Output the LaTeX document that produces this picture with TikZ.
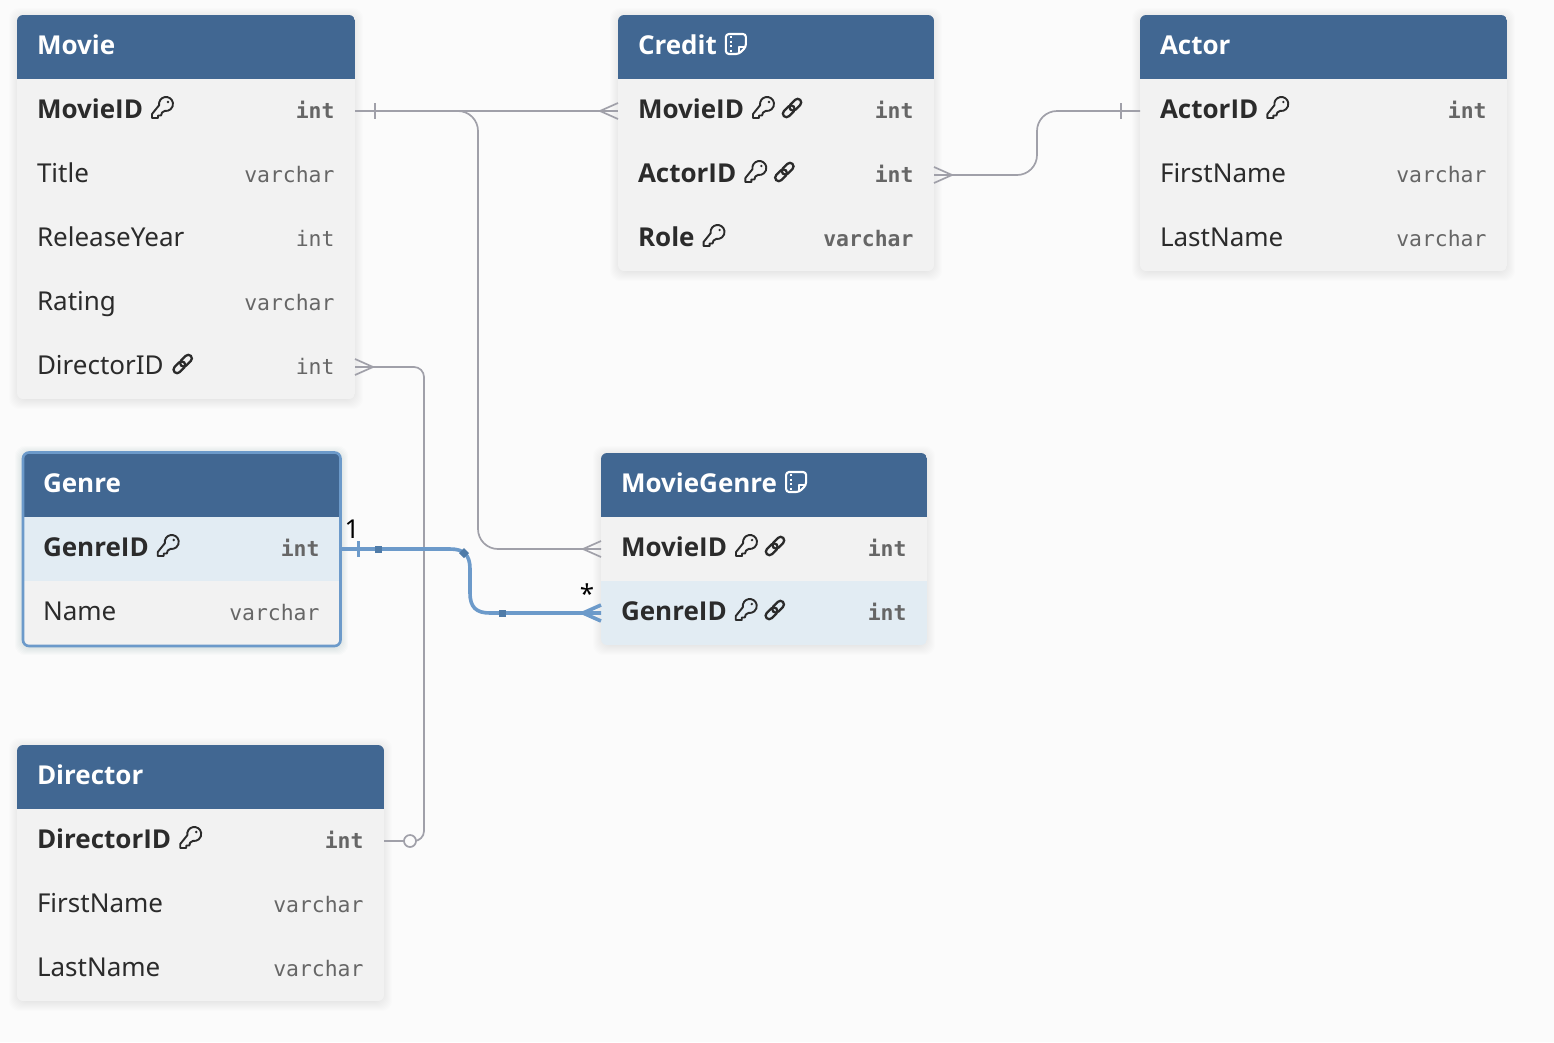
\documentclass[tikz,border=0pt]{standalone}
\usepackage{fontspec}
\setmainfont{Noto Sans}
\newfontfamily\keyfont{Open Sans}
\setmonofont{DejaVu Sans Mono}
\usetikzlibrary{calc}
\definecolor{pagebg}{HTML}{FBFBFB}
\definecolor{headblue}{HTML}{416792}
\definecolor{rowgrey}{HTML}{F2F2F2}
\definecolor{rowhi}{HTML}{E2ECF3}
\definecolor{inkdark}{HTML}{2B2B2B}
\definecolor{typegrey}{HTML}{666666}
\definecolor{wire}{HTML}{A0A0A9}
\definecolor{wireblue}{HTML}{6C9ACA}
\definecolor{markblue}{HTML}{4F7BA8}
\newcommand\fsz{\fontsize{26}{30}\selectfont}
\newcommand\tsz{\fontsize{21.4}{26}\selectfont\ttfamily}
\tikzset{
  rowbox/.style={draw=none,fill=rowgrey,rectangle,inner sep=0pt,outer sep=0pt,anchor=north west,minimum height=64pt},
  headbox/.style={rowbox,fill=headblue},
  rowname/.style={anchor=base west,inner sep=0pt,outer sep=0pt,text=inkdark,font=\fsz},
  rowkeyname/.style={rowname,font=\fsz\keyfont\bfseries},
  headname/.style={anchor=base west,inner sep=0pt,outer sep=0pt,text=white,font=\fsz\keyfont\bfseries},
  rowtype/.style={anchor=base east,inner sep=0pt,outer sep=0pt,text=typegrey,font=\tsz},
  rowkeytype/.style={rowtype,font=\tsz\bfseries},
  wireline/.style={draw=wire,line width=1.7pt},
  blueline/.style={draw=wireblue,line width=3.6pt},
  keyicon/.pic={
    \begin{scope}[yscale=-1,line width=1.9pt,line join=round]
      \draw[inkdark] (-2.9,2.8) arc[start angle=190,end angle=-100,radius=7] -- (0,-4.5) -- (-1,-7.5) -- (-4,-7.5) -- (-4,-10) -- (-10,-10) -- (-10,-6) -- cycle;
      \fill[inkdark] (6,6) circle[radius=1.3];
    \end{scope}},
  linkicon/.pic={
    \begin{scope}[rotate=45,line width=2.3pt,inkdark]
      \draw[rounded corners=3.6pt] (-11.5,-3.6) rectangle (2.2,3.6);
      \draw[rounded corners=3.6pt] (-2.2,-3.6) rectangle (11.5,3.6);
    \end{scope}},
  noteicon/.pic={
    \begin{scope}[line width=2.1pt,white,line join=round]
      \draw[rounded corners=3pt] (-10,-10) -- (10,-10) -- (10,3) -- (3,10) -- (-10,10) -- cycle;
      \draw (10,3) -- (3,3) -- (3,10);
      \draw[dash pattern=on 2pt off 2.5pt,line width=1.6pt] (-5,-8) -- (-5,8);
    \end{scope}},
}
% \dbshadow{x}{y}{w}{h}{colour}
\newcommand\dbshadow[5]{%
  \foreach \s in {1,2,...,10}{
    \fill[#5,opacity=0.006,rounded corners=10pt] ({#1-\s+2},{#2+3-\s}) rectangle ({#1+#3+\s-2},{#2+#4+\s});
  }%
}
% \dbopen{x}{y}{w}{h}
\newcommand\dbopen[4]{%
  \dbshadow{#1}{#2}{#3}{#4}{black}%
  \begin{scope}
  \clip[rounded corners=6pt] (#1,#2) rectangle ({#1+#3},{#2+#4});
  \def\tx{#1}\def\ty{#2}\def\tw{#3}%
}
\newcommand\dbclose{\end{scope}}
% \dbhead{id}{title}
\newcommand\dbhead[2]{%
  \node[headbox,minimum width=\tw pt] (#1-head) at (\tx,\ty) {};
  \node[headname] (#1-title) at ({\tx+20},{\ty+39}) {#2};
  \pgfmathsetmacro\ty{\ty+64}%
}
% \dbrow{id}{fill}{namestyle}{name}{typestyle}{type}
\newcommand\dbrow[6]{%
  \node[rowbox,fill=#2,minimum width=\tw pt] (#1) at (\tx,\ty) {};
  \node[#3] (#1-name) at ({\tx+20},{\ty+39}) {#4};
  \node[#5] (#1-type) at ({\tx+\tw-20.5},{\ty+39}) {#6};
  \pgfmathsetmacro\ty{\ty+64}%
}
\newcommand\keylink[1]{%
  \pic at ($(#1-name.base east)+(19,-10)$) {keyicon};
}
\newcommand\keylinktwo[1]{%
  \pic at ($(#1-name.base east)+(19,-10)$) {keyicon};
  \pic at ($(#1-name.base east)+(48,-10)$) {linkicon};
}
\begin{document}
\begin{tikzpicture}[x=1pt,y=-1pt]
\useasboundingbox (0,0) rectangle (1554,1042);
\fill[pagebg] (0,0) rectangle (1554,1042);

% Movie
\dbopen{17}{15}{338}{384}
\dbhead{movie}{Movie}
\dbrow{movie-1}{rowgrey}{rowkeyname}{MovieID}{rowkeytype}{int}
\dbrow{movie-2}{rowgrey}{rowname}{Title}{rowtype}{varchar}
\dbrow{movie-3}{rowgrey}{rowname}{ReleaseYear}{rowtype}{int}
\dbrow{movie-4}{rowgrey}{rowname}{Rating}{rowtype}{varchar}
\dbrow{movie-5}{rowgrey}{rowname}{DirectorID}{rowtype}{int}
\keylink{movie-1}
\pic at ($(movie-5-name.base east)+(19,-10)$) {linkicon};
\dbclose

% Credit
\dbopen{618}{15}{316}{256}
\dbhead{credit}{Credit}
\dbrow{credit-1}{rowgrey}{rowkeyname}{MovieID}{rowkeytype}{int}
\dbrow{credit-2}{rowgrey}{rowkeyname}{ActorID}{rowkeytype}{int}
\dbrow{credit-3}{rowgrey}{rowkeyname}{Role}{rowkeytype}{varchar}
\pic at ($(credit-title.base east)+(19,-10)$) {noteicon};
\keylinktwo{credit-1}
\keylinktwo{credit-2}
\keylink{credit-3}
\dbclose

% Actor
\dbopen{1140}{15}{367}{256}
\dbhead{actor}{Actor}
\dbrow{actor-1}{rowgrey}{rowkeyname}{ActorID}{rowkeytype}{int}
\dbrow{actor-2}{rowgrey}{rowname}{FirstName}{rowtype}{varchar}
\dbrow{actor-3}{rowgrey}{rowname}{LastName}{rowtype}{varchar}
\keylink{actor-1}
\dbclose

% Genre (selected)
\dbshadow{23}{453}{317}{192}{wireblue}
\dbopen{23}{453}{317}{192}
\dbhead{genre}{Genre}
\dbrow{genre-1}{rowhi}{rowkeyname}{GenreID}{rowkeytype}{int}
\dbrow{genre-2}{rowgrey}{rowname}{Name}{rowtype}{varchar}
\keylink{genre-1}
\dbclose
\draw[wireblue,line width=2.6pt,rounded corners=6pt] (23,452.5) rectangle (340.5,646);

% MovieGenre
\dbopen{601}{453}{326}{192}
\dbhead{mg}{MovieGenre}
\dbrow{mg-1}{rowgrey}{rowkeyname}{MovieID}{rowkeytype}{int}
\dbrow{mg-2}{rowhi}{rowkeyname}{GenreID}{rowkeytype}{int}
\pic at ($(mg-title.base east)+(19,-10)$) {noteicon};
\keylinktwo{mg-1}
\keylinktwo{mg-2}
\dbclose

% Director
\dbopen{17}{745}{367}{256}
\dbhead{director}{Director}
\dbrow{director-1}{rowgrey}{rowkeyname}{DirectorID}{rowkeytype}{int}
\dbrow{director-2}{rowgrey}{rowname}{FirstName}{rowtype}{varchar}
\dbrow{director-3}{rowgrey}{rowname}{LastName}{rowtype}{varchar}
\keylink{director-1}
\dbclose

% Grey connectors
\draw[wireline] (movie-1.east) -- (credit-1.west);
\draw[wireline] (movie-1.east) -- ++(103,0) arc[start angle=-90,end angle=0,radius=20]
   -- ++(0,398) arc[start angle=180,end angle=90,radius=20] -- (mg-1.west);
\draw[wireline] (credit-2.east) -- ++(83,0) arc[start angle=90,end angle=0,radius=20]
   -- ++(0,-24) arc[start angle=180,end angle=270,radius=20] -- (actor-1.west);
\draw[wireline] (movie-5.east) -- ++(59,0) arc[start angle=-90,end angle=0,radius=10]
   -- ++(0,454) arc[start angle=0,end angle=90,radius=10] -- (director-1.east);
% Ticks
\draw[wireline] ($(movie-1.east)+(20,-8)$) -- ++(0,16);
\draw[wireline] ($(actor-1.west)+(-19,-8)$) -- ++(0,16);
% Crow's feet
\draw[wireline] ($(credit-1.west)+(0,-8)$) -- ++(-18,8) -- ++(18,8);
\draw[wireline] ($(mg-1.west)+(0,-8)$) -- ++(-18,8) -- ++(18,8);
\draw[wireline] ($(credit-2.east)+(0,-8)$) -- ++(18,8) -- ++(-18,8);
\draw[wireline] ($(movie-5.east)+(0,-8)$) -- ++(18,8) -- ++(-18,8);
% Zero mark
\coordinate (dirzero) at ($(director-1.east)+(26,0)$);
\draw[wireline,fill=pagebg] (dirzero) circle[radius=6];

% Blue selected connector
\draw[blueline] (genre-1.east) -- ++(110,0) .. controls ++(14,0) and ++(0,-14) .. ++(20,20)
   -- ++(0,24) .. controls ++(0,14) and ++(-14,0) .. ++(20,20) -- (mg-2.west);
\draw[blueline] ($(genre-1.east)+(18.5,-8)$) -- ++(0,16);
\draw[blueline] ($(mg-2.west)+(0,-8)$) -- ++(-18,8) -- ++(18,8);
\coordinate (gm1) at ($(genre-1.east)+(38.5,0)$);
\coordinate (gm2) at ($(mg-2.west)+(-99,0)$);
\coordinate (gm3) at ($(genre-1.east)+(124,4)$);
\fill[markblue] ($(gm1)+(-3.5,-3.5)$) rectangle ($(gm1)+(3.5,3.5)$);
\fill[markblue] ($(gm2)+(-3.5,-3.5)$) rectangle ($(gm2)+(3.5,3.5)$);
\fill[markblue] ($(gm3)+(-5,0)$) -- ($(gm3)+(0,-5)$) -- ($(gm3)+(5,0)$) -- ($(gm3)+(0,5)$) -- cycle;
% Cardinality labels
\node[anchor=base,inner sep=0pt,text=black,font=\fontsize{26}{30}\selectfont] (card-one) at (352,538) {1};
\node[anchor=base,inner sep=0pt,text=black,font=\fontsize{26}{30}\selectfont] (card-many) at (587,603) {*};
\end{tikzpicture}
\end{document}
